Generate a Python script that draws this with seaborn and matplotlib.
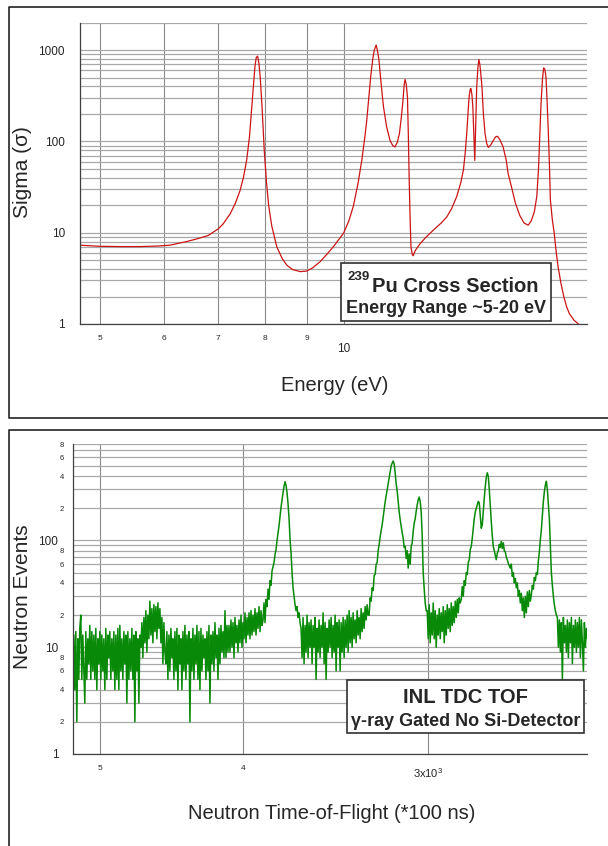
import numpy as np
import matplotlib
matplotlib.use("Agg")
import matplotlib.pyplot as plt
import seaborn as sns
from matplotlib.patches import Rectangle
from matplotlib.lines import Line2D
from matplotlib.ticker import FixedLocator, LogLocator, NullFormatter, FuncFormatter

# ---------------------------------------------------------------- top panel data
# 239Pu cross section, energy in eV, sigma
energy = [4.73, 4.85, 5.0, 5.3, 5.6, 5.9, 6.1, 6.4, 6.6, 6.8,
          7.0, 7.1, 7.24, 7.35, 7.45, 7.52, 7.59, 7.65, 7.70, 7.74,
          7.77, 7.80, 7.83, 7.86, 7.89, 7.93, 7.98, 8.03, 8.08, 8.15,
          8.27, 8.40, 8.51, 8.65, 8.84, 9.0, 9.15, 9.35, 9.55, 9.71,
          9.85, 10.0, 10.15, 10.28, 10.42, 10.53, 10.62, 10.68, 10.75, 10.80,
          10.86, 10.91, 10.97, 11.02, 11.06, 11.12, 11.20, 11.30, 11.41, 11.50,
          11.57, 11.65, 11.72, 11.78, 11.83, 11.88, 11.91, 11.95, 11.99, 12.02,
          12.05, 12.08, 12.11, 12.16, 12.19, 12.25, 12.43, 12.65, 12.91, 13.20,
          13.41, 13.60, 13.79, 13.95, 14.06, 14.14, 14.20, 14.25, 14.29, 14.33,
          14.36, 14.40, 14.44, 14.48, 14.52, 14.56, 14.60, 14.65, 14.69, 14.73,
          14.78, 14.82, 14.88, 14.95, 15.02, 15.09, 15.20, 15.30, 15.40, 15.49,
          15.60, 15.74, 15.88, 15.96, 16.1, 16.3, 16.5, 16.7, 16.9, 17.05,
          17.2, 17.32, 17.40, 17.47, 17.53, 17.60, 17.66, 17.72, 17.78, 17.84,
          17.90, 17.96, 18.0, 18.1, 18.2, 18.3, 18.4, 18.55, 18.7, 18.85,
          19.0, 19.25, 19.5]
sigma = [7.3, 7.2, 7.1, 7.05, 7.05, 7.15, 7.3, 8.0, 8.6, 9.3,
         11.0, 12.5, 16.0, 21, 29, 40, 62, 110, 230, 420,
         650, 830, 860, 720, 500, 240, 80, 36, 20, 12,
         7.0, 5.2, 4.4, 3.95, 3.75, 3.8, 4.1, 4.8, 5.9, 7.0,
         8.3, 9.9, 13.5, 19.5, 35, 62, 110, 170, 320, 510,
         780, 1000, 1140, 950, 760, 450, 240, 145, 103, 90,
         87, 98, 122, 180, 262, 420, 478, 420, 310, 120,
         38, 15, 7.0, 5.7, 5.6, 6.3, 7.6, 9.0, 10.7, 12.8,
         14.9, 18.5, 24.8, 35, 49, 80, 133, 220, 310, 370,
         380, 330, 240, 120, 62, 150, 395, 650, 790, 700,
         520, 395, 200, 122, 95, 86, 92, 102, 112, 114,
         104, 87, 62, 45, 33, 21, 15.5, 12.8, 12.1, 13.5,
         17, 25, 48, 120, 260, 480, 640, 620, 500, 260,
         122, 50, 23, 14, 9.9, 6.2, 4.25, 2.8, 2.0, 1.55,
         1.3, 1.1, 1.0]

# ---------------------------------------------------------------- bottom panel data
# TOF channel range (*100 ns), from first to last channel
tof_first, tof_last = 5213, 2340
# neutron events per channel
counts = [
    6, 13, 4, 14, 2, 12, 5, 15, 20, 5,
    13, 6, 3, 14, 5, 12, 7, 16, 5, 14,
    6, 13, 5, 15, 4, 12, 7, 14, 5, 13,
    6, 12, 4, 15, 5, 13, 8, 14, 5, 12,
    6, 14, 4, 13, 5, 15, 4, 16, 6, 12,
    5, 14, 7, 13, 3, 14, 5, 12, 6, 15,
    5, 13, 2, 14, 6, 12, 3, 13,
    10, 17, 8, 19, 11, 22, 9, 20, 12, 27,
    13, 23, 11, 25, 14, 24, 12, 26, 15, 23,
    11, 19, 7, 17, 9,
    7, 14, 5, 13, 6, 15, 8, 12, 5, 14,
    6, 15, 4, 13, 7, 12, 4, 14, 6, 16,
    5, 13, 7, 14, 2, 12, 6, 15, 5, 13,
    7, 16, 5, 14, 4, 15, 6, 13, 8, 12,
    5, 14, 6, 16, 3, 13, 7, 14, 6, 17,
    8, 13, 5, 15, 7, 16, 9, 14, 8, 22,
    8, 16, 9,
    16, 9, 18, 10, 17, 8, 19, 11, 16, 9,
    18, 11, 20, 10, 17, 12, 21, 11, 19, 13,
    21, 12, 22, 13, 20, 14, 23, 13, 21, 15,
    24, 14, 22, 16,
    18, 26, 17, 28, 24, 35, 28, 42, 38, 52,
    57, 62, 74, 82, 100, 117, 138, 170, 205, 241,
    280, 322, 355, 328, 280, 220, 160, 102, 76, 50,
    36, 30, 25, 22, 24, 19, 21, 17,
    15, 8, 19, 7, 16, 9, 20, 8, 17, 10,
    18, 7, 16, 10, 19, 5, 15, 9, 18, 8,
    16, 10, 21, 7, 17, 5, 15, 9, 18, 10,
    19, 8, 16, 9, 20, 6, 17, 10, 18, 6,
    17, 9, 19, 8, 18, 10, 20, 9, 22, 11,
    19, 10, 21, 12, 18, 11, 22, 13, 19, 12,
    23, 14, 21, 15, 24, 18, 25, 20,
    20, 29, 27, 36, 34, 47, 48, 60, 62, 80,
    92, 108, 124, 140, 165, 195, 230, 262, 300, 340,
    390, 440, 500, 530, 555, 520, 430, 340, 290, 230,
    185, 156, 135, 118, 105, 86, 88, 68, 80, 55,
    75, 60, 88, 95, 122, 145, 160, 188, 215, 240,
    255, 232, 185, 110, 50, 35, 26, 22,
    22, 12, 25, 11, 21, 13, 26, 12, 22, 10,
    20, 13, 23, 12, 21, 14, 24, 11, 22, 13,
    25, 15, 23, 14, 26, 16, 24, 17, 27, 19,
    28, 21, 29, 26,
    28, 37, 30, 42, 38, 50, 48, 62, 66, 82,
    88, 105, 130, 160, 185, 200, 215, 232, 225, 170,
    130, 140, 190, 250, 320, 390, 430, 400, 300, 208,
    150, 110, 88, 80, 72, 66, 76, 80, 92, 86,
    98, 84, 95, 80, 78, 70, 66, 61, 58, 55,
    60, 46, 50, 40, 44, 36, 40, 30, 34, 26,
    32, 22, 29, 19, 30, 21, 33, 24, 34, 27,
    31, 38, 35, 45, 42, 50, 48, 64, 78, 102,
    125, 170, 230, 287, 330, 358, 300, 220, 160, 90,
    50, 38, 30, 25, 22, 20,
    19, 10, 18, 9, 17, 5, 19, 11, 16, 9,
    18, 8, 17, 11, 19, 7, 16, 10, 18, 9,
    17, 10, 19, 8, 18, 11, 6, 17, 10, 15,
    12]
tof = np.geomspace(tof_first, tof_last, len(counts))

# ---------------------------------------------------------------- style
sns.set_style("white")
plt.rcParams["font.family"] = ["Liberation Sans", "DejaVu Sans"]
plt.rcParams["mathtext.fontset"] = "custom"
plt.rcParams["mathtext.rm"] = "Liberation Sans"

W, H = 608, 846
fig = plt.figure(figsize=(W / 100, H / 100), dpi=100)


def fx(px):
    return px / W


def fy(py):
    return 1 - py / H


def box(x0, y0, x1, y1):
    return [fx(x0), fy(y1), (x1 - x0) / W, (y1 - y0) / H]


GRID = "#a8a8a8"
VGRID = "#8a8a8a"
AXC = "#404040"


def minor_digit(v, p):
    d = int(round(v / 10 ** np.floor(np.log10(v) + 1e-9)))
    return str(d) if d in (2, 4, 6, 8) else ""


def style_axes(ax):
    ax.set_axisbelow(True)
    ax.grid(True, which="both", axis="y", color=GRID, lw=0.9)
    ax.grid(True, which="both", axis="x", color=VGRID, lw=0.8)
    for s in ("top", "right"):
        ax.spines[s].set_visible(False)
    for s in ("left", "bottom"):
        ax.spines[s].set_color(AXC)
        ax.spines[s].set_linewidth(0.9)
    ax.set_xlabel("")
    ax.set_ylabel("")


# ---------------------------------------------------------------- top panel
ax1 = fig.add_axes(box(80.3, 22.7, 587.4, 324))
sns.lineplot(x=energy, y=sigma, ax=ax1, color="#cc1414", lw=0.9, estimator=None, sort=False)
ax1.set_xscale("log")
ax1.set_yscale("log")
ax1.set_xlim(4.73, 20)
ax1.set_ylim(1, 2000)
ax1.xaxis.set_major_locator(FixedLocator([10]))
ax1.xaxis.set_minor_locator(FixedLocator([5, 6, 7, 8, 9]))
ax1.xaxis.set_major_formatter(FuncFormatter(lambda v, p: f"{v:g}"))
ax1.xaxis.set_minor_formatter(FuncFormatter(lambda v, p: f"{v:g}"))
ax1.yaxis.set_major_locator(LogLocator(base=10, numticks=10))
ax1.yaxis.set_minor_locator(LogLocator(base=10, subs=range(2, 10), numticks=10))
ax1.yaxis.set_major_formatter(FuncFormatter(lambda v, p: f"{v:g}"))
ax1.yaxis.set_minor_formatter(NullFormatter())
style_axes(ax1)
ax1.tick_params(axis="y", which="major", length=8, width=0.9, pad=3, labelsize=8.5, color=AXC)
ax1.tick_params(axis="y", which="minor", length=4, width=0.8, color=AXC)
ax1.tick_params(axis="x", which="major", length=12, width=0.8, pad=2, labelsize=8.5, color=AXC)
ax1.tick_params(axis="x", which="minor", length=4, width=0.8, pad=4, labelsize=6, color=AXC)

# ---------------------------------------------------------------- bottom panel
ax2 = fig.add_axes(box(72.8, 444, 587.4, 754))
sns.lineplot(x=tof, y=counts, ax=ax2, color="#088a08", lw=1.1, estimator=None, sort=False)
ax2.set_xscale("log")
ax2.set_yscale("log")
ax2.set_xlim(tof_first, tof_last)
ax2.set_ylim(1, 800)
ax2.xaxis.set_major_locator(FixedLocator([3000]))
ax2.xaxis.set_minor_locator(FixedLocator([5000, 4000]))
ax2.xaxis.set_major_formatter(FuncFormatter(lambda v, p: r"3x10$^3$"))
ax2.xaxis.set_minor_formatter(FuncFormatter(lambda v, p: f"{v / 1000:g}"))
ax2.yaxis.set_major_locator(LogLocator(base=10, numticks=10))
ax2.yaxis.set_minor_locator(LogLocator(base=10, subs=range(2, 10), numticks=10))
ax2.yaxis.set_major_formatter(FuncFormatter(lambda v, p: f"{v:g}"))
ax2.yaxis.set_minor_formatter(FuncFormatter(minor_digit))
style_axes(ax2)
ax2.tick_params(axis="y", which="major", length=9, width=0.9, pad=1.5, labelsize=8.5, color=AXC)
ax2.tick_params(axis="y", which="minor", length=5, width=0.8, pad=1.5, labelsize=5.5, color=AXC)
ax2.tick_params(axis="x", which="major", length=5, width=0.8, pad=4, labelsize=8, color=AXC)
ax2.tick_params(axis="x", which="minor", length=6, width=0.8, pad=2, labelsize=6, color=AXC)

# ---------------------------------------------------------------- frames
FR = "#222222"
fig.add_artist(Line2D([fx(608), fx(9), fx(9), fx(608)], [fy(7), fy(7), fy(418), fy(418)],
                      transform=fig.transFigure, color=FR, lw=1.2))
fig.add_artist(Line2D([fx(608), fx(9), fx(9)], [fy(429.5), fy(429.5), fy(846)],
                      transform=fig.transFigure, color=FR, lw=1.2))

# ---------------------------------------------------------------- axis labels
fig.text(fx(335), fy(390.5), "Energy (eV)", ha="center", va="baseline", fontsize=14.5)
fig.text(fx(23), fy(172), "Sigma (\u03c3)", ha="center", va="center", rotation=90, fontsize=15)
fig.text(fx(332), fy(819), "Neutron Time-of-Flight (*100 ns)", ha="center", va="baseline", fontsize=14.5)
fig.text(fx(23), fy(597), "Neutron Events", ha="center", va="center", rotation=90, fontsize=15)

# ---------------------------------------------------------------- annotation boxes
for (x0, y0, x1, y1) in [(341.2, 263.3, 550.6, 320.7), (347.3, 680, 584, 732.7)]:
    fig.add_artist(Rectangle((fx(x0), fy(y1)), (x1 - x0) / W, (y1 - y0) / H,
                             transform=fig.transFigure, fc="white", ec="#303030", lw=1.2, zorder=5))

fig.text(fx(347), fy(280), "239", ha="left", va="baseline", fontsize=9.5, fontweight="bold", zorder=6)
fig.text(fx(372.5), fy(291.7), "Pu Cross Section", ha="left", va="baseline", fontsize=14.5,
         fontweight="bold", zorder=6)
fig.text(fx(445.5), fy(312.7), "Energy Range ~5-20 eV", ha="center", va="baseline", fontsize=13,
         fontweight="bold", zorder=6)
fig.text(fx(465.5), fy(702.7), "INL TDC TOF", ha="center", va="baseline", fontsize=14.5,
         fontweight="bold", zorder=6)
fig.text(fx(465.5), fy(725.7), "\u03b3-ray Gated No Si-Detector", ha="center", va="baseline",
         fontsize=13, fontweight="bold", zorder=6)

fig.savefig("out.png", dpi=100)
